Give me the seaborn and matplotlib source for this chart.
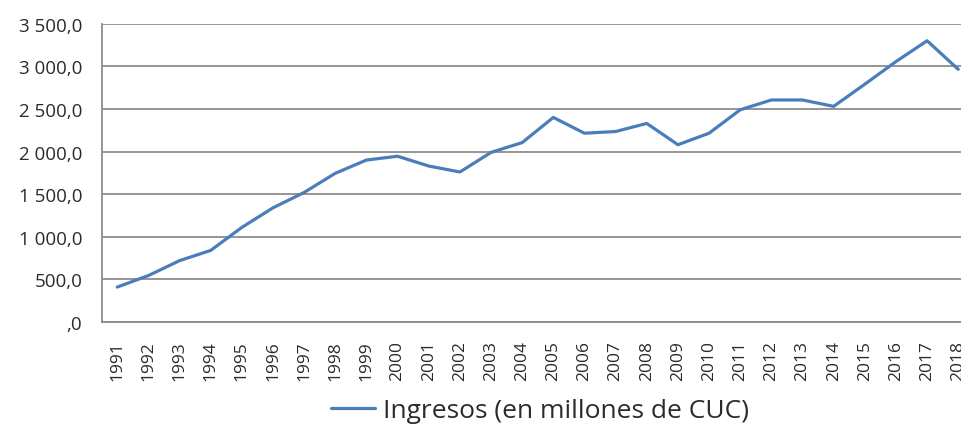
import numpy as np
import pandas as pd
import matplotlib
matplotlib.use("Agg")
import matplotlib.pyplot as plt
from matplotlib.ticker import FuncFormatter, FixedLocator
import seaborn as sns

# Data
years = list(range(1991, 2019))
ingresos = [410, 545, 720, 840, 1110, 1340, 1520, 1745, 1900, 1945,
            1830, 1760, 1990, 2105, 2400, 2215, 2235, 2330, 2080, 2215,
            2490, 2605, 2605, 2530, 2790, 3055, 3300, 2965]
serie = "Ingresos (en millones de CUC)"

df = pd.DataFrame({"Año": years, "Ingresos": ingresos})

sns.set_style("white")
plt.rcParams["font.family"] = ["Open Sans", "DejaVu Sans"]

txt_col = "#2b2b2b"
grid_col = "#8c8c8c"
blue = "#4a7ebb"

fig = plt.figure(figsize=(9.62, 4.27), dpi=100)
# plot area runs past the right edge, like the cropped original
ax = fig.add_axes([101.7 / 962, 1 - 323 / 427, (973.8 - 101.7) / 962, (323 - 24.7) / 427])

sns.lineplot(data=df, x="Año", y="Ingresos", ax=ax, color=blue, linewidth=2.3,
             label=serie, legend=False)

ax.set_xlim(1990.5, 2018.5)
ax.set_ylim(0, 3500)
ax.set_yticks(np.arange(0, 3501, 500))

def fmt(v, pos):
    s = f"{v:,.1f}".replace(",", " ").replace(".", ",")
    return ",0" if v == 0 else s

ax.yaxis.set_major_formatter(FuncFormatter(fmt))
ax.grid(axis="y", color=grid_col, linewidth=1.3)
ax.set_axisbelow(True)

ax.set_xticks(years)
ax.set_xticklabels([str(y) for y in years], rotation=90)
ax.xaxis.set_minor_locator(FixedLocator(np.arange(1990.5, 2019, 1)))
ax.tick_params(axis="x", which="major", length=0, pad=13, labelsize=12.5, labelcolor=txt_col)
ax.tick_params(axis="x", which="minor", length=5, width=1.1, color=grid_col, direction="out")
ax.tick_params(axis="y", length=5, width=1.1, color=grid_col, direction="out",
               labelsize=13.5, labelcolor=txt_col, pad=9)
ax.set_xlabel("")
ax.set_ylabel("")

for side in ["top", "right"]:
    ax.spines[side].set_visible(False)
for side in ["left", "bottom"]:
    ax.spines[side].set_color(grid_col)
    ax.spines[side].set_linewidth(1.3)

handles, labels = ax.get_legend_handles_labels()
fig.legend(handles, labels, loc="center", bbox_to_anchor=(540 / 962, 1 - 412 / 427),
           frameon=False, fontsize=19, handlelength=1.7, handletextpad=0.3,
           labelcolor=txt_col, borderpad=0)

fig.savefig("out.png", dpi=100)
